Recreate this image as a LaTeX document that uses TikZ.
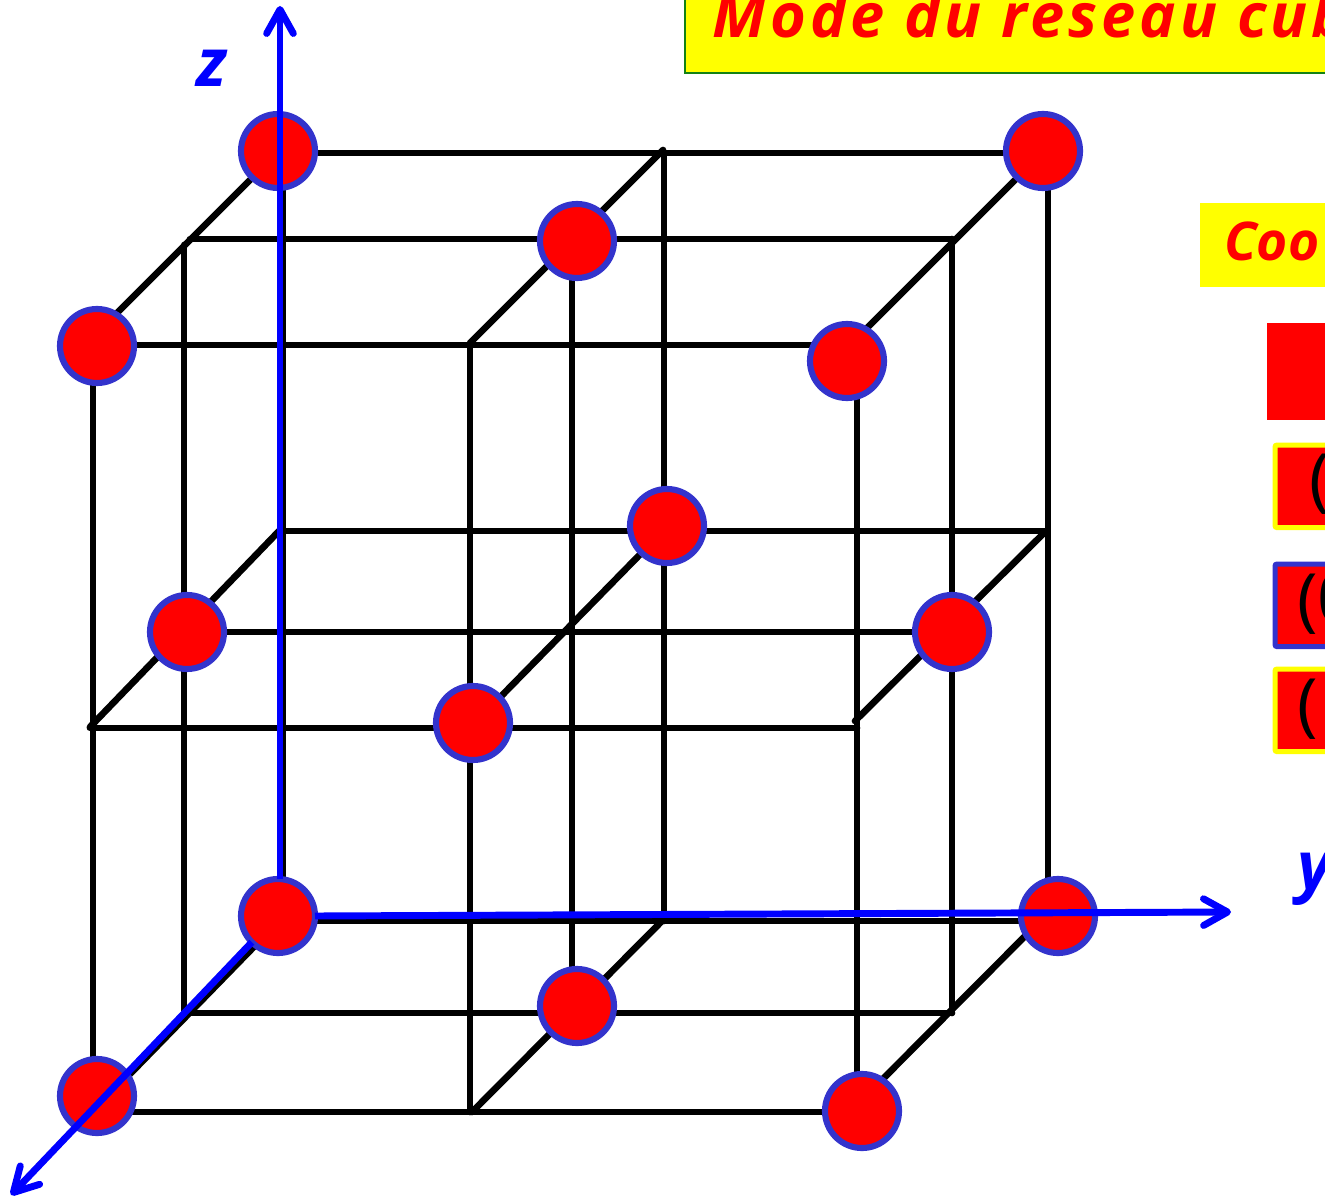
\documentclass[tikz,border=0pt]{standalone}
\usepackage{fontspec}
\setmainfont{Open Sans}
\usepackage{xcolor}
\usetikzlibrary{arrows.meta,positioning}
\definecolor{atomedge}{RGB}{51,51,204}
\definecolor{boxgreen}{RGB}{20,130,20}
\definecolor{boxyellow}{RGB}{255,255,0}
\tikzset{
    >={Straight Barb[round,length=18pt,width=20pt]},
    lattice/.style={draw=black, line width=5pt, line cap=round},
    axis/.style={draw=blue, line width=5.2pt, ->},
    atom/.style={circle, fill=red, draw=atomedge, line width=4.6pt, minimum size=55.5pt, inner sep=0pt, outer sep=0pt},
    redtext/.style={font=\bfseries\itshape\fontsize{46}{46}\selectfont, text=red, inner sep=0pt, anchor=base west},
    bluetext/.style={font=\bfseries\itshape\fontsize{50}{50}\selectfont, text=blue, inner sep=0pt, anchor=base west},
    paren/.style={font=\fontsize{52}{52}\selectfont, text=black, inner sep=0pt, anchor=base west},
    legendbox/.style={fill=red, line width=3.75pt, rounded corners=1.5pt, minimum width=150pt, minimum height=62pt, inner sep=0pt, outer sep=0pt, anchor=north west},
}

\begin{document}
\begin{tikzpicture}[x=0.75pt,y=-0.75pt]
\useasboundingbox (0,0) rectangle (1325,1198);
% Lattice points: t/m/b level, then back, middle and front row
\foreach \name/\x/\y in {tbl/283/153, tbm/664/153, tbr/1048/153, tmh/190/239, tml/184/245, tmm/572/239, tmr/952/239, tfl/93/345, tfm/470/345, tfr/857/345,
    mbl/283/531, mbm/664/531, mbr/1046/531, mml/184/632, mmm/572/632, mmr/952/632, mfl/90/728, mfm/470/728, mfr/857/728,
    bbl/283/921, bbm/664/921, bbr/1048/921, bml/184/1013, bmm/572/1013, bmr/952/1013, bfl/93/1112, bfm/470/1112, bfr/857/1112} {
    \coordinate (\name) at (\x,\y);
}
% Ends of the depth edges
\foreach \name/\x/\y in {d1/280/150, d2/90/340, d3/663/150, d4/470/343, d5/1045/150, d6/857/338,
    d7/280/530, d8/90/727, d9/663/531, d10/470/728, d11/1046/531, d12/855/721,
    d13/280/920, d14/93/1112, d15/663/920, d16/472/1112, d17/1045/916, d18/850/1112} {
    \coordinate (\name) at (\x,\y);
}
% Horizontal edges
\foreach \a/\b in {tbl/tbr, tmh/tmr, tfl/tfr, mbl/mbr, mml/mmr, mfl/mfr, bbl/bbr, bml/bmr, bfl/bfr} {
    \draw[lattice] (\a) -- (\b);
}
% Depth edges
\foreach \a/\b in {d1/d2, d3/d4, d5/d6, d7/d8, d9/d10, d11/d12, d13/d14, d15/d16, d17/d18} {
    \draw[lattice] (\a) -- (\b);
}
% Verticals
\foreach \col in {bl,bm,br,ml,mm,mr,fl,fm,fr} {
    \draw[lattice] (t\col) -- (b\col);
}
% Atoms
\foreach \name/\x/\y in {a1/278/151, a2/1043/151, a3/577/241, a4/97/346, a5/847/361,
    a6/667/526, a7/187/632, a8/952/632, a9/473/723,
    a10/1058/916, a11/577/1006, a12/97/1096, a13/862/1111, orig/278/916} {
    \node[atom] (\name) at (\x,\y) {};
}
% Axes
\coordinate (ztip) at (280,6);
\coordinate (ytip) at (1231,912);
\coordinate (xtip) at (11,1195);
\draw[axis] (orig.north -| ztip) -- (ztip);
\draw[axis] (orig.east) -- (ytip);
\draw[axis] (orig.south west) -- (xtip);
\node[bluetext] (zlab) at (196,87) {z};
\node[bluetext] (ylab) at (1297,889) {y};
% Title and legend, cut by the page edge
\node[fill=boxyellow, draw=boxgreen, line width=1.5pt, minimum width=600pt, minimum height=80pt, inner sep=0pt, outer sep=0pt, anchor=south west] (titlebox) at (685,73) {};
\node[redtext] (title) at (712,38) {\addfontfeature{LetterSpace=6.5}Mode du réseau cub};
\node[fill=boxyellow, minimum width=150pt, minimum height=63pt, inner sep=0pt, outer sep=0pt, anchor=north west] (coordbox) at (1200,203) {};
\node[redtext, font=\bfseries\itshape\fontsize{40}{40}\selectfont] (coord) at (1224,261) {Coo};
\node[fill=red, minimum width=150pt, minimum height=73pt, inner sep=0pt, outer sep=0pt, anchor=north west] (legend1) at (1267,323) {};
\node[legendbox, draw=boxyellow] (legend2) at (1275,445) {};
\node[legendbox, draw=atomedge] (legend3) at (1275,564) {};
\node[legendbox, draw=boxyellow] (legend4) at (1275,669) {};
\node[paren] (par2) at (1309,503) {(};
\node[paren] (par3) at (1297,623) {(0};
\node[paren] (par4) at (1297,728) {(};
\end{tikzpicture}
\end{document}
